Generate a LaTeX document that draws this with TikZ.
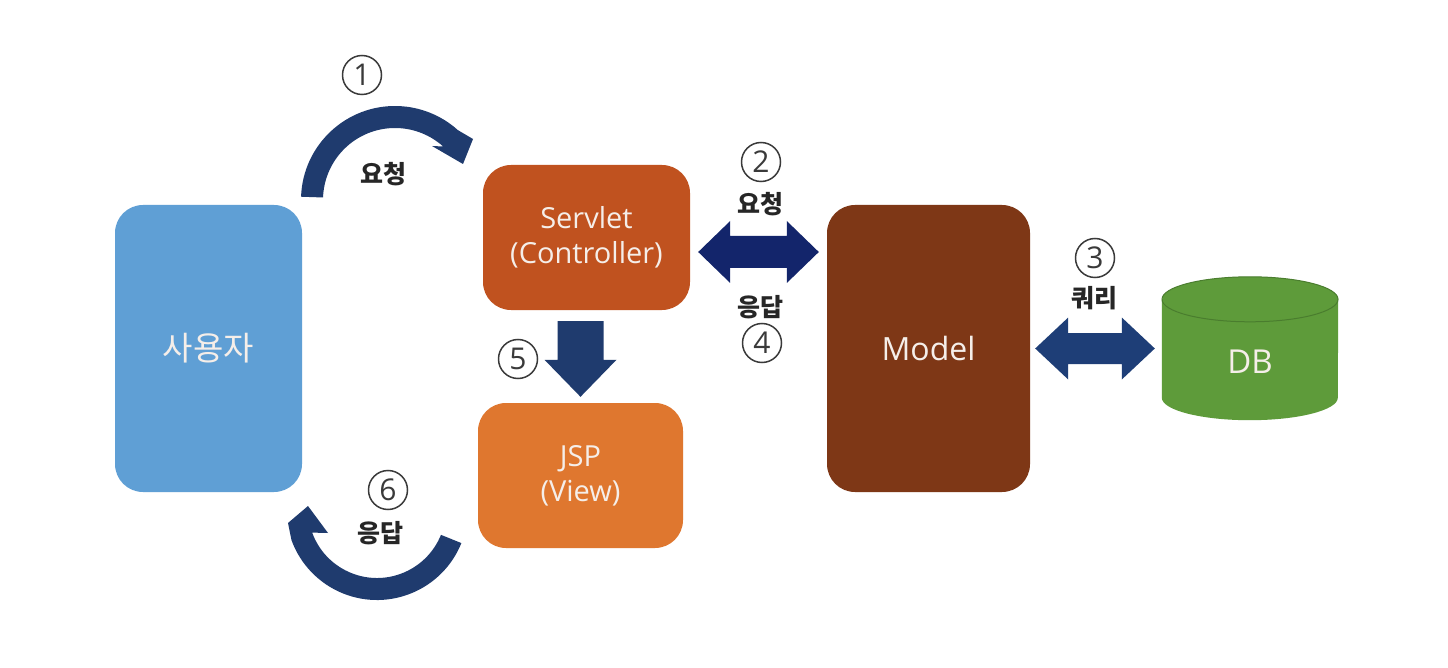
\documentclass[tikz,border=0pt]{standalone}
\usepackage{fontspec}
\setmainfont{Open Sans}
\newfontfamily\kr{Noto Sans CJK KR}
\usetikzlibrary{calc}
\definecolor{userblue}{HTML}{5F9FD5}
\definecolor{servletc}{HTML}{C0521F}
\definecolor{jspc}{HTML}{DF772F}
\definecolor{modelc}{HTML}{7E3716}
\definecolor{dbc}{HTML}{5E9B3A}
\definecolor{dbedge}{HTML}{4A7D2E}
\definecolor{navy}{HTML}{13256B}
\definecolor{arcblue}{HTML}{1F3B6E}
\definecolor{qblue}{HTML}{1E3E77}
\definecolor{boxtext}{HTML}{F5EEE9}
\definecolor{numgray}{HTML}{3A3A3A}

% fill colour, left tip, right tip, shaft half height, head half height, head length
\newcommand\myDbl[6]{%
 \fill[#1] (#2) -- ($(#2)+(#6,-#5)$) -- ($(#2)+(#6,-#4)$) -- ($(#3)+(-#6,-#4)$)
   -- ($(#3)+(-#6,-#5)$) -- (#3) -- ($(#3)+(-#6,#5)$) -- ($(#3)+(-#6,#4)$)
   -- ($(#2)+(#6,#4)$) -- ($(#2)+(#6,#5)$) -- cycle;}

\begin{document}
\begin{tikzpicture}[x=1pt,y=-1pt,
 box/.style={rounded corners=28pt, inner sep=0pt, text=boxtext, align=center,
   font=\fontsize{29}{35}\selectfont},
 num/.style={circle, draw=numgray, line width=1.5pt, minimum size=39pt, inner sep=0pt,
   text=numgray, font=\fontsize{30}{30}\selectfont},
 lbl/.style={text=black!85, font=\kr\bfseries\fontsize{25}{25}\selectfont, inner sep=0pt}]

\fill[white] (0,0) rectangle (1448,668);
\useasboundingbox (0,0) rectangle (1448,668);

% boxes
\node[box, fill=userblue, minimum width=187pt, minimum height=287pt] (user) at (208.5,348.5)
  {\kr\fontsize{33}{33}\selectfont 사용자};
\node[box, fill=servletc, minimum width=207pt, minimum height=145pt] (servlet) at (586.5,237.5)
  {Servlet\\(Controller)};
\node[box, fill=jspc, minimum width=205pt, minimum height=145pt] (jsp) at (580.5,475.5)
  {JSP\\(View)};
\node[box, fill=modelc, minimum width=203pt, minimum height=287pt,
  font=\fontsize{32}{32}\selectfont] (model) at (928.5,348.5) {Model};

% database cylinder
\node[minimum width=176pt, minimum height=98pt, inner sep=0pt] (db) at (1250,348.5) {};
\fill[dbc] (db.north west) -- (db.south west)
  arc[start angle=180,end angle=0,x radius=88,y radius=22.5]
  -- (db.north east) arc[start angle=0,end angle=-180,x radius=88,y radius=22.5] -- cycle;
\draw[dbedge, line width=1pt] (db.north) ellipse[x radius=88, y radius=22.5];
\node[text=boxtext, font=\fontsize{33}{33}\selectfont] (dblabel) at (1250,362) {DB};

% curved arrow 1 (user -> servlet)
\coordinate (c1) at (395,200);
\fill[arcblue] ($(c1)+(182:94)$) arc[start angle=182,end angle=312,radius=94]
  -- (473,139) -- (463,164) -- (432,146)
  -- ($(c1)+(312:72)$) arc[start angle=312,end angle=182,radius=72] -- cycle;

% curved arrow 6 (jsp -> user)
\coordinate (c6) at (377,509);
\fill[arcblue] ($(c6)+(22:91)$) arc[start angle=22,end angle=160,radius=91]
  -- (288,523) -- (308,506) -- (328,533)
  -- ($(c6)+(160:69)$) arc[start angle=160,end angle=22,radius=69] -- cycle;

% double arrow servlet <-> model
\coordinate (a2l) at ($(servlet.east |- 0,252)+(8,0)$);
\coordinate (a2r) at ($(model.west |- 0,252)+(-8,0)$);
\myDbl{navy}{a2l}{a2r}{16}{31}{32}

% double arrow model <-> db
\coordinate (a3l) at ($(model.east)+(5,0)$);
\coordinate (a3r) at ($(db.west)+(-7,0)$);
\myDbl{qblue}{a3l}{a3r}{15.5}{31}{33}

% down arrow servlet -> jsp
\coordinate (d5t) at ($(servlet.south -| jsp.north)+(0,11)$);
\coordinate (d5b) at ($(jsp.north)+(0,-6)$);
\fill[arcblue] ($(d5t)+(-23,0)$) -- ($(d5t)+(23,0)$) -- ($(d5b)+(23,-37)$) -- ($(d5b)+(36,-37)$)
  -- (d5b) -- ($(d5b)+(-36,-37)$) -- ($(d5b)+(-23,-37)$) -- cycle;

% numbers
\node[num] (n1) at (362,75) {1};
\node[num] (n2) at (761,162) {2};
\node[num] (n3) at (1095,258) {3};
\node[num] (n4) at (762,343) {4};
\node[num] (n5) at (518,359) {5};
\node[num] (n6) at (388,490) {6};

% labels
\node[lbl] (l1) at (383,174) {요청};
\node[lbl] (l2) at (760,204) {요청};
\node[lbl] (l4) at (760,307) {응답};
\node[lbl] (l3) at (1094,298) {쿼리};
\node[lbl] (l6) at (380,533) {응답};
\end{tikzpicture}
\end{document}
